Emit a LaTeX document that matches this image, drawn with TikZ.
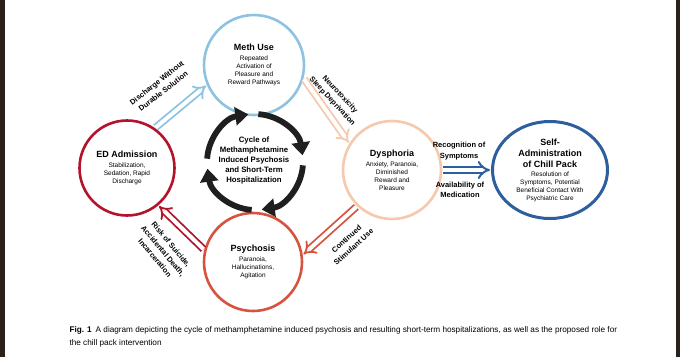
\documentclass[tikz,border=0pt]{standalone}
\usepackage{fontspec}
\setmainfont{Liberation Sans}
\usetikzlibrary{arrows.meta,shapes.geometric}
\definecolor{methblue}{HTML}{8DC3E1}
\definecolor{edred}{HTML}{B3142B}
\definecolor{dyspeach}{HTML}{F6C8AE}
\definecolor{psyred}{HTML}{D8533F}
\definecolor{chillblue}{HTML}{2D5E9E}
\definecolor{barbrown}{HTML}{2B211B}
\newcommand\stagettl[1]{{\fontsize{9}{10}\selectfont\bfseries #1}}
\begin{document}
\begin{tikzpicture}[x=1pt, y=1pt,
  stage/.style={circle, draw, line width=2.6pt, minimum size=98pt, inner sep=0pt,
                align=center, font=\fontsize{6.5}{8}\selectfont},
  dblarrow/.style={double=white, double distance=4pt, line width=1.8pt, -{Implies},
                   shorten <=1pt, shorten >=1pt},
  cyclearc/.style={line width=5.8pt, draw=black!88, -{Triangle[length=13pt,width=18pt]}},
  lab/.style={font=\fontsize{7.5}{10.5}\selectfont\bfseries, align=center}
]
\useasboundingbox (0,-357) rectangle (680,0);
\fill[white] (0,-357) rectangle (680,0);
\fill[barbrown] (0,-357) rectangle (4.5,0);
\fill[barbrown] (675.5,-357) rectangle (680,0);

\node[stage, draw=methblue, minimum size=100pt] (meth) at (254,-65)
  {\stagettl{Meth Use}\\[2pt]Repeated\\Activation of\\Pleasure and\\Reward Pathways};
\node[stage, draw=edred, minimum size=95pt] (ed) at (127,-168)
  {\stagettl{ED Admission}\\[2pt]Stabilization,\\Sedation, Rapid\\Discharge};
\node[stage, draw=dyspeach, minimum size=98pt] (dys) at (392,-170)
  {\stagettl{Dysphoria}\\[2pt]Anxiety, Paranoia,\\Diminished\\Reward and\\Pleasure};
\node[stage, draw=psyred, minimum size=98pt] (psy) at (253,-262)
  {\stagettl{Psychosis}\\[2pt]Paranoia,\\Hallucinations,\\Agitation};
\node[stage, ellipse, draw=chillblue, line width=3pt, minimum width=115pt, minimum height=97pt] (chill) at (550,-170)
  {\stagettl{Self-}\\[3pt]\stagettl{Administration}\\[3pt]\stagettl{of Chill Pack}\\[1pt]Resolution of\\Symptoms, Potential\\Beneficial Contact With\\Psychiatric Care};

\coordinate (ring) at (255,-162);
\node[font=\fontsize{7.8}{10}\selectfont\bfseries, align=center] (cycle) at (254,-160)
  {Cycle of\\Methamphetamine\\Induced Psychosis\\and Short-Term\\Hospitalization};
\foreach \s in {86,-4,-94,176}
  \draw[cyclearc] ([shift={(\s:48pt)}]ring) arc[start angle=\s, end angle=\s-78, radius=48pt];

\draw[dblarrow, draw=methblue] (ed.55) -- (meth.203);
\draw[dblarrow, draw=dyspeach] (meth.-15) -- (dys.148);
\draw[dblarrow, draw=psyred] (dys.226) -- (psy.8);
\draw[dblarrow, draw=edred] (psy.166) -- (ed.-50);
\draw[dblarrow, draw=chillblue, line width=2pt] (dys.east) -- (chill.west);

\node[lab, rotate=38] (discharge) at (160,-87) {Discharge Without\\Durable Solution};
\node[lab, rotate=-47] (neuro) at (336,-98) {Neurotoxicity\\Sleep Deprivation};
\node[lab, rotate=42] (continued) at (350,-243) {Continued\\Stimulant Use};
\node[lab, rotate=-50] (risk) at (163,-251) {Risk of Suicide,\\Accidental Death,\\Incarceration};
\node[lab] (recog) at (459,-151) {Recognition of\\Symptoms};
\node[lab] (avail) at (460,-190) {Availability of\\Medication};

\node[anchor=north west, align=left, font=\fontsize{8.2}{13}\selectfont] (caption) at (66,-323)
  {\textbf{Fig. 1}\hspace{4pt}A diagram depicting the cycle of methamphetamine induced psychosis and resulting short-term hospitalizations, as well as the proposed role for\\the chill pack intervention};
\end{tikzpicture}
\end{document}
